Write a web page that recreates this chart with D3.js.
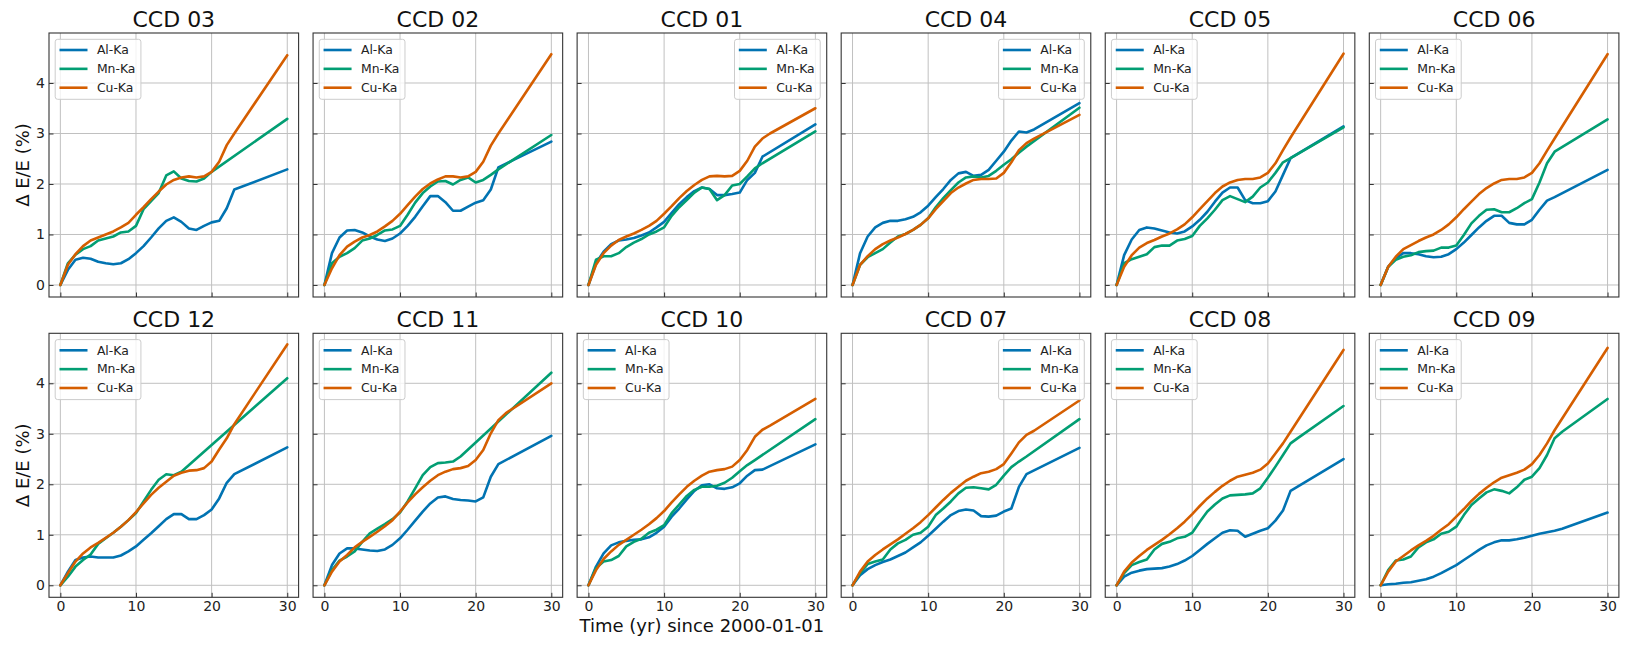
<!DOCTYPE html>
<html><head><meta charset="utf-8">
<script src="https://cdn.jsdelivr.net/npm/d3@7/dist/d3.min.js"></script>
<style>
html,body{margin:0;padding:0;background:#fff;}
text{font-family:"DejaVu Sans",sans-serif;}
</style></head>
<body><svg id="chart" width="1626" height="645"></svg>
<script>
// ---- data ----
const years = [0,1,2,3,4,5,6,7,8,9,10,11,12,13,14,15,16,17,18,19,20,21,22,23,24,30];
const ccdNames = ["CCD 03","CCD 02","CCD 01","CCD 04","CCD 05","CCD 06",
                  "CCD 12","CCD 11","CCD 10","CCD 07","CCD 08","CCD 09"];
const seriesNames = ["Al-Ka","Mn-Ka","Cu-Ka"];
const legendRight = ["CCD 01","CCD 04","CCD 07"];
const xTicks = [0,10,20,30];
const yTicks = [0,1,2,3,4];
const N = null;
const alKa = [
 [0,.30,.50,.54,.52,.46,.43,.41,.43,.51,.63,.77,.94,1.12,1.27,1.34,1.25,1.12,1.09,1.17,1.24,1.27,1.52,1.89,N,2.29],
 [0,.63,.94,1.08,1.09,1.04,.96,.90,.87,.92,1.02,1.17,1.35,1.56,1.76,1.76,1.64,1.47,1.47,1.55,1.63,1.68,1.89,2.33,N,2.84],
 [0,.43,.66,.81,.88,.90,.93,.98,1.04,1.14,1.25,1.43,1.60,1.74,1.86,1.93,1.90,1.78,1.78,1.80,1.83,2.08,2.22,2.54,N,3.18],
 [0,.63,.96,1.14,1.23,1.27,1.27,1.30,1.35,1.44,1.57,1.74,1.90,2.08,2.21,2.24,2.16,2.18,2.28,2.46,2.64,2.86,3.04,3.02,3.08,3.60],
 [0,.59,.90,1.09,1.14,1.12,1.08,1.04,1.02,1.06,1.16,1.29,1.45,1.65,1.83,1.93,1.93,1.68,1.62,1.62,1.66,1.85,2.18,2.51,N,3.14],
 [0,.36,.53,.63,.63,.61,.57,.55,.56,.61,.71,.84,.99,1.14,1.27,1.37,1.37,1.23,1.20,1.20,1.29,1.49,1.67,1.74,N,2.28],
 [0,.27,.50,.55,.57,.55,.55,.55,.59,.67,.77,.90,1.03,1.17,1.31,1.41,1.41,1.31,1.31,1.39,1.50,1.72,2.03,2.20,N,2.73],
 [0,.40,.63,.73,.73,.71,.69,.68,.71,.80,.93,1.10,1.28,1.46,1.62,1.74,1.76,1.71,1.69,1.68,1.66,1.74,2.15,2.40,N,2.96],
 [0,.37,.63,.79,.85,.88,.90,.91,.95,1.04,1.16,1.36,1.52,1.70,1.87,1.98,2.00,1.92,1.91,1.94,2.02,2.17,2.28,2.29,N,2.79],
 [0,.20,.32,.40,.46,.51,.58,.65,.75,.85,.98,1.12,1.26,1.39,1.47,1.50,1.48,1.37,1.36,1.38,1.46,1.52,1.95,2.20,N,2.72],
 [0,.17,.25,.29,.32,.33,.34,.37,.42,.49,.58,.70,.82,.93,1.04,1.09,1.08,.96,1.02,1.08,1.13,1.28,1.48,1.87,N,2.50],
 [0,.02,.03,.05,.06,.09,.12,.17,.24,.32,.40,.50,.60,.70,.79,.85,.89,.89,.91,.94,.98,1.02,1.05,1.08,1.12,1.44]
];
const mnKa = [
 [0,.43,.60,.71,.77,.88,.92,.96,1.04,1.06,1.17,1.50,1.66,1.82,2.17,2.25,2.11,2.06,2.05,2.11,2.24,N,N,N,N,3.29],
 [0,.43,.56,.63,.73,.88,.92,.99,1.08,1.10,1.17,1.39,1.63,1.82,1.95,2.05,2.06,1.99,2.08,2.13,2.03,2.08,2.18,2.29,N,2.97],
 [0,.50,.57,.57,.63,.75,.84,.91,1.00,1.06,1.14,1.37,1.54,1.68,1.83,1.93,1.90,1.68,1.78,1.97,2.00,2.15,2.31,2.41,N,3.04],
 [0,.40,.55,.63,.71,.84,.96,1.01,1.09,1.19,1.32,1.54,1.72,1.88,2.03,2.13,2.15,2.13,2.16,2.26,2.38,2.49,2.62,2.74,N,3.51],
 [0,.43,.51,.56,.61,.75,.78,.78,.88,.91,.97,1.17,1.32,1.49,1.68,1.76,1.70,1.64,1.75,1.93,2.03,2.22,2.43,2.51,N,3.12],
 [0,.36,.50,.56,.59,.65,.67,.68,.74,.74,.78,.99,1.22,1.37,1.49,1.50,1.44,1.44,1.52,1.62,1.70,2.03,2.41,2.64,N,3.28],
 [0,.17,.37,.50,.61,.82,.93,1.04,1.16,1.29,1.43,1.66,1.89,2.09,2.20,2.18,2.25,N,N,N,N,N,N,N,N,4.10],
 [0,.30,.49,.57,.67,.86,1.03,1.12,1.21,1.31,1.44,1.66,1.92,2.18,2.34,2.42,2.43,2.45,2.55,N,N,N,N,N,N,4.21],
 [0,.34,.47,.50,.58,.77,.86,.92,1.04,1.10,1.19,1.43,1.60,1.77,1.89,1.95,1.95,1.97,2.03,2.13,2.26,2.38,2.48,N,N,3.29],
 [0,.24,.42,.47,.51,.71,.83,.90,1.00,1.04,1.16,1.39,1.52,1.66,1.82,1.93,1.94,1.92,1.90,1.99,2.17,2.34,2.45,2.55,N,3.29],
 [0,.24,.40,.46,.51,.71,.82,.86,.93,.96,1.04,1.26,1.46,1.60,1.72,1.78,1.79,1.80,1.82,1.92,2.13,2.35,2.58,2.81,2.92,3.55],
 [0,.30,.49,.51,.57,.75,.85,.91,1.02,1.06,1.16,1.39,1.59,1.72,1.84,1.90,1.87,1.82,1.94,2.09,2.15,2.32,2.58,2.91,3.04,3.69]
];
const cuKa = [
 [0,.40,.61,.77,.88,.94,1.00,1.06,1.14,1.23,1.39,1.54,1.70,1.85,1.99,2.08,2.13,2.15,2.13,2.15,2.24,2.44,2.77,3.00,N,4.55],
 [0,.33,.59,.76,.86,.94,.99,1.06,1.16,1.27,1.41,1.58,1.75,1.90,2.01,2.09,2.15,2.15,2.13,2.15,2.24,2.44,2.76,3.00,N,4.57],
 [0,.40,.63,.78,.89,.96,1.02,1.09,1.17,1.27,1.41,1.56,1.72,1.86,1.98,2.08,2.15,2.16,2.15,2.16,2.26,2.46,2.74,2.90,3.00,3.50],
 [0,.40,.57,.71,.81,.88,.94,1.01,1.09,1.19,1.32,1.50,1.66,1.82,1.93,2.01,2.08,2.10,2.10,2.11,2.22,2.43,2.67,2.81,2.90,3.37],
 [0,.36,.59,.74,.83,.89,.96,1.02,1.10,1.20,1.34,1.50,1.66,1.82,1.95,2.03,2.08,2.10,2.10,2.13,2.22,2.41,2.67,2.92,N,4.58],
 [0,.36,.56,.71,.79,.87,.94,1.00,1.09,1.20,1.34,1.50,1.65,1.80,1.92,2.01,2.08,2.10,2.10,2.13,2.22,2.41,2.66,2.90,N,4.57],
 [0,.24,.47,.63,.75,.84,.94,1.04,1.16,1.29,1.45,1.62,1.79,1.93,2.05,2.17,2.23,2.27,2.28,2.32,2.45,2.69,2.91,3.19,N,4.77],
 [0,.27,.47,.60,.75,.86,.96,1.06,1.17,1.29,1.46,1.64,1.80,1.94,2.07,2.18,2.25,2.30,2.32,2.36,2.48,2.68,3.01,3.27,3.41,4.00],
 [0,.30,.52,.67,.80,.90,1.00,1.10,1.21,1.33,1.47,1.64,1.80,1.95,2.07,2.17,2.25,2.28,2.30,2.35,2.48,2.68,2.94,3.08,3.16,3.69],
 [0,.27,.47,.60,.71,.81,.91,1.02,1.13,1.25,1.39,1.54,1.69,1.83,1.95,2.07,2.15,2.22,2.25,2.30,2.40,2.61,2.83,2.98,3.06,3.66],
 [0,.27,.45,.58,.70,.80,.90,1.01,1.13,1.26,1.41,1.57,1.72,1.85,1.97,2.07,2.15,2.19,2.23,2.29,2.41,2.61,2.81,3.04,N,4.66],
 [0,.27,.47,.58,.69,.79,.88,.98,1.10,1.21,1.36,1.51,1.67,1.81,1.93,2.04,2.13,2.18,2.23,2.29,2.40,2.58,2.81,3.07,N,4.70]
];
const colors = ["#0173B2","#029E73","#D55E00"];

// ---- layout ----
const svg = d3.select("#chart");
const panelW = 249.6, panelH = 264;
const left0 = 49, stepX = 264.06;
const tops = [33, 333.3];
const x = d3.scaleLinear().domain([-1.5, 31.5]).range([0, panelW]);
const y = d3.scaleLinear().domain([-0.238, 4.99]).range([panelH, 0]);

const line = d3.line().x(d => x(d[0])).y(d => y(d[1]));

ccdNames.forEach((name, i) => {
  const row = Math.floor(i / 6), col = i % 6;
  const g = svg.append("g").attr("transform", `translate(${left0 + col*stepX},${tops[row]})`);

  // grid
  g.append("g").selectAll("line").data(xTicks).join("line")
    .attr("x1", d => x(d)).attr("x2", d => x(d)).attr("y1", 0).attr("y2", panelH)
    .attr("stroke", "#c0c0c0").attr("stroke-width", 1);
  g.append("g").selectAll("line").data(yTicks).join("line")
    .attr("y1", d => y(d)).attr("y2", d => y(d)).attr("x1", 0).attr("x2", panelW)
    .attr("stroke", "#c0c0c0").attr("stroke-width", 1);

  // axes (ticks inward)
  const xa = g.append("g").attr("transform", `translate(0,${panelH})`)
    .call(d3.axisBottom(x).tickValues(xTicks).tickSize(-4.5).tickPadding(3.5)
      .tickFormat(row === 1 ? d3.format("d") : ""));
  const ya = g.append("g")
    .call(d3.axisLeft(y).tickValues(yTicks).tickSize(-4.5).tickPadding(4)
      .tickFormat(col === 0 ? d3.format("d") : ""));
  [xa, ya].forEach(a => {
    a.select(".domain").remove();
    a.selectAll(".tick line").attr("stroke", "#333").attr("stroke-width", 1);
    a.selectAll(".tick text").attr("font-size", "14px").attr("fill", "#222")
      .attr("font-family", "DejaVu Sans, sans-serif");
  });

  // series
  const sets = [alKa[i], mnKa[i], cuKa[i]];
  sets.forEach((vals, s) => {
    const pts = years.map((t, k) => [t, vals[k]]).filter(d => d[1] !== null);
    g.append("path").datum(pts).attr("d", line)
      .attr("fill", "none").attr("stroke", colors[s]).attr("stroke-width", 2.6)
      .attr("stroke-linejoin", "round").attr("stroke-linecap", "round");
  });

  // frame
  g.append("rect").attr("x", 0).attr("y", 0).attr("width", panelW).attr("height", panelH)
    .attr("fill", "none").attr("stroke", "#333").attr("stroke-width", 1.1);

  // title
  g.append("text").attr("x", panelW/2).attr("y", -6.3).attr("text-anchor", "middle")
    .attr("font-size", "22px").attr("fill", "#111").text(name);

  // legend
  const lg = g.append("g");
  const labels = lg.selectAll("text").data(seriesNames).join("text")
    .attr("x", 41.7).attr("y", (d, k) => 10.7 + k*18.85)
    .attr("dy", "0.35em").attr("font-size", "12.4px").attr("fill", "#222").text(d => d);
  let maxW = 0;
  labels.each(function(){ maxW = Math.max(maxW, this.getComputedTextLength()); });
  const boxW = 41.7 + maxW + 5.5, boxH = 60;
  lg.insert("rect", "text").attr("x", 0).attr("y", 0).attr("width", boxW).attr("height", boxH)
    .attr("rx", 2.5).attr("fill", "rgba(255,255,255,0.8)").attr("stroke", "#cccccc").attr("stroke-width", 1);
  lg.selectAll("line.h").data(seriesNames).join("line").attr("class", "h")
    .attr("x1", 4.3).attr("x2", 32.3)
    .attr("y1", (d, k) => 10.7 + k*18.85).attr("y2", (d, k) => 10.7 + k*18.85)
    .attr("stroke", (d, k) => colors[k]).attr("stroke-width", 2.6);
  const lx = legendRight.includes(name) ? panelW - 6.5 - boxW : 6.2;
  lg.attr("transform", `translate(${lx},6.3)`);
});

// axis labels
[0, 1].forEach(row => {
  svg.append("text")
    .attr("transform", `translate(29,${tops[row] + panelH/2}) rotate(-90)`)
    .attr("text-anchor", "middle").attr("font-size", "18px").attr("fill", "#111")
    .text("Δ E/E (%)");
});
svg.append("text").attr("x", left0 + 2*stepX + panelW/2).attr("y", 632)
  .attr("text-anchor", "middle").attr("font-size", "18px").attr("fill", "#111")
  .text("Time (yr) since 2000-01-01");
</script>
</body></html>
